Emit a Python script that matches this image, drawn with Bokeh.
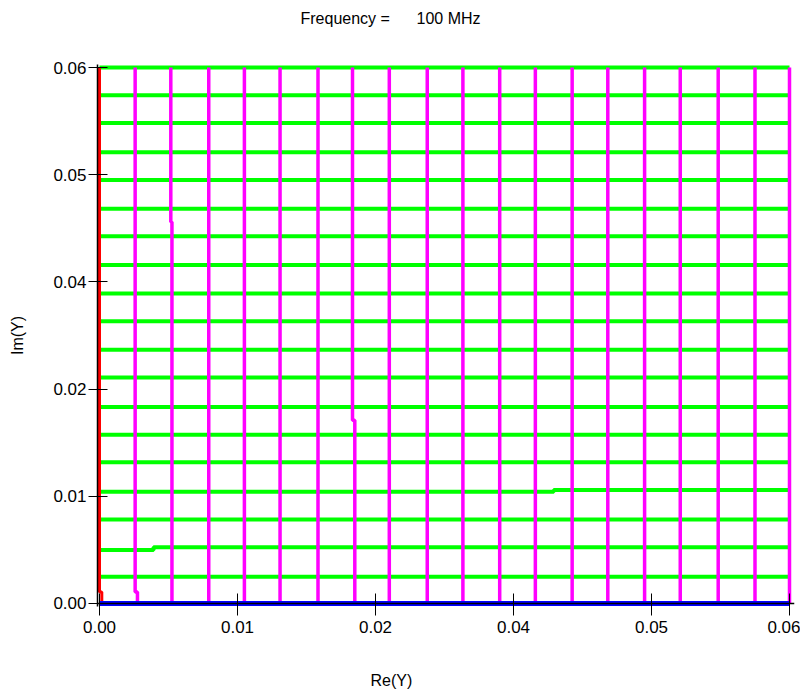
from bokeh.plotting import figure
from bokeh.models import Range1d, FixedTicker, ColumnDataSource, Span, Title
from bokeh.embed import file_html
from bokeh.resources import INLINE

# ---- data ----
title_text = "Frequency =\u00a0\u00a0\u00a0\u00a0\u00a0\u00a0100 MHz"
x_label = "Re(Y)"
y_label = "Im(Y)"

x_ticks = [0.0, 0.012, 0.024, 0.036, 0.048, 0.06]
x_tick_labels = ["0.00", "0.01", "0.02", "0.04", "0.05", "0.06"]
y_ticks = [0.0, 0.012, 0.024, 0.036, 0.048, 0.06]
y_tick_labels = ["0.00", "0.01", "0.02", "0.04", "0.05", "0.06"]

# constant-conductance lines (magenta, vertical): G values
g_levels = [0.0031, 0.0063, 0.0095, 0.0126, 0.0157, 0.0190, 0.0221, 0.0252, 0.0285, 0.0316,
            0.0348, 0.0379, 0.0411, 0.0442, 0.0474, 0.0505, 0.0538, 0.0570, 0.0600]
# small kinks in some G lines
g_kink_index = [0, 1, 6]
g_kink_b = [0.0013, 0.0427, 0.0205]
g_kink_lower = [0.0033, 0.0063, 0.0222]
g_kink_upper = [0.0031, 0.0062, 0.0220]

# constant-susceptance lines (green, horizontal): B values
b_levels = [0.0030, 0.0063, 0.0094, 0.0127, 0.0158, 0.0189, 0.0220, 0.0253, 0.0284, 0.0316,
            0.0347, 0.0379, 0.0411, 0.0442, 0.0474, 0.0505, 0.0538, 0.0569, 0.0600]
# small steps in some B lines
b_step_index = [1, 3]
b_step_g = [0.0047, 0.0395]
b_step_left = [0.0060, 0.0125]
b_step_right = [0.0063, 0.0127]

# G = 0 line (red) with small hook near the bottom, and B = 0 line (blue)
red_g = [0.0002, 0.0002, 0.0, 0.0]
red_b = [0.0, 0.0013, 0.0013, 0.06]
blue_g = [0.0, 0.06]
blue_b = [0.0, 0.0]

g_max = 0.06
b_max = 0.06

# ---- build line data ----
mag_xs, mag_ys = [], []
for i, g in enumerate(g_levels):
    if i in g_kink_index:
        k = g_kink_index.index(i)
        lo, up, bk = g_kink_lower[k], g_kink_upper[k], g_kink_b[k]
        mag_xs.append([lo, lo, up, up])
        mag_ys.append([0.0, bk, bk, b_max])
    else:
        mag_xs.append([g, g])
        mag_ys.append([0.0, b_max])

grn_xs, grn_ys = [], []
for i, b in enumerate(b_levels):
    if i in b_step_index:
        k = b_step_index.index(i)
        gs, bl, br = b_step_g[k], b_step_left[k], b_step_right[k]
        grn_xs.append([0.0, gs, gs, g_max])
        grn_ys.append([bl, bl, br, br])
    else:
        grn_xs.append([0.0, g_max])
        grn_ys.append([b, b])

FONT = "Liberation Sans"

p = figure(width=800, height=700, output_backend="svg", toolbar_location=None,
           x_range=Range1d(-0.000174, 0.060435), y_range=Range1d(-0.000336, 0.060336),
           min_border_left=97, min_border_right=6, min_border_top=64, min_border_bottom=94,
           background_fill_color="white", border_fill_color="white")

p.multi_line(xs="xs", ys="ys", source=ColumnDataSource(dict(xs=grn_xs, ys=grn_ys)),
             line_color="#00ff00", line_width=4)
p.multi_line(xs="xs", ys="ys", source=ColumnDataSource(dict(xs=mag_xs, ys=mag_ys)),
             line_color="#ff00ff", line_width=3.5)
p.line(red_g, red_b, line_color="#ff0000", line_width=3)
p.line(blue_g, blue_b, line_color="#0000ff", line_width=5)

# black Re axis line drawn at B = 0 (over the blue line)
p.add_layout(Span(location=0, dimension="width", line_color="#000000", line_width=1.5))

p.grid.visible = False
p.outline_line_color = None

xa = p.xaxis[0]
ya = p.yaxis[0]
xa.ticker = FixedTicker(ticks=x_ticks)
ya.ticker = FixedTicker(ticks=y_ticks)
xa.major_label_overrides = {t: l for t, l in zip(x_ticks, x_tick_labels)}
ya.major_label_overrides = {t: l for t, l in zip(y_ticks, y_tick_labels)}
for ax in (xa, ya):
    ax.minor_tick_line_color = None
    ax.axis_line_color = "#000000"
    ax.axis_line_width = 1.5
    ax.major_tick_line_color = "#000000"
    ax.major_tick_line_width = 1
    ax.major_label_text_font = FONT
    ax.major_label_text_font_size = "17px"
    ax.major_label_text_color = "#000000"
xa.axis_line_color = None
xa.major_tick_in = 13
xa.major_tick_out = 9
xa.major_label_standoff = 5
ya.major_tick_in = 10
ya.major_tick_out = 9
ya.major_label_standoff = 2

ya.axis_label = y_label
ya.axis_label_standoff = 24
ya.axis_label_text_font = FONT
ya.axis_label_text_font_size = "16px"
ya.axis_label_text_font_style = "normal"
ya.axis_label_text_color = "#000000"

# title: trailing empty lines lift it towards the top edge
p.title.text = title_text + "\n\n"
p.title.align = "left"
p.title.offset = 203
p.title.standoff = 7
p.title.text_font = FONT
p.title.text_font_size = "16px"
p.title.text_font_style = "normal"
p.title.text_color = "#000000"

# Re(Y) label as a title below; leading empty lines push it down
p.add_layout(Title(text="\n\n" + x_label, align="left", offset=273, standoff=0,
                   text_font=FONT, text_font_size="16px", text_font_style="normal",
                   text_color="#000000"), "below")

open("out.html", "w").write(file_html(p, INLINE))
